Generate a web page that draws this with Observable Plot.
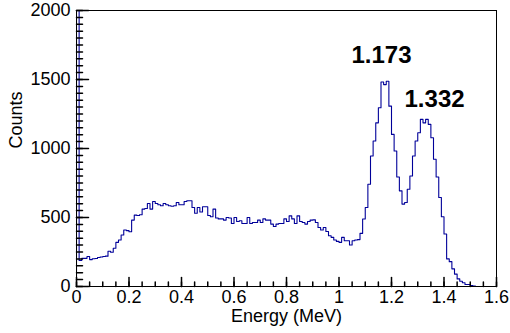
<!DOCTYPE html>
<html><head><meta charset="utf-8">
<script src="https://cdn.jsdelivr.net/npm/d3@7"></script>
<script src="https://cdn.jsdelivr.net/npm/@observablehq/plot@0.6"></script>
<style>body{margin:0;background:#fff}</style>
</head><body><div id="chart"></div>
<script>
// Histogram: 160 bins of 0.01 MeV from 0 to 1.6 MeV
const binWidth = 0.01;
const counts = [
  2600, 188, 204, 204, 217, 195, 201, 203, 210, 214,
  217, 220, 255, 248, 277, 320, 337, 373, 409, 405,
  397, 481, 517, 515, 520, 561, 565, 601, 561, 616,
  601, 592, 585, 601, 592, 585, 582, 585, 609, 592,
  592, 616, 621, 621, 573, 531, 573, 540, 578, 578,
  515, 505, 561, 496, 490, 490, 481, 500, 496, 457,
  500, 471, 476, 457, 457, 500, 457, 464, 464, 481,
  464, 490, 481, 481, 452, 435, 452, 457, 457, 490,
  471, 512, 490, 457, 512, 471, 464, 452, 471, 481,
  483, 464, 428, 409, 428, 399, 368, 356, 337, 327,
  320, 356, 332, 332, 301, 332, 337, 340, 385, 489,
  573, 741, 946, 1054, 1186, 1295, 1482, 1463, 1487, 1307,
  1102, 982, 794, 693, 597, 609, 705, 801, 946, 1054,
  1114, 1211, 1186, 1211, 1175, 1078, 922, 794, 645, 505,
  380, 200, 180, 128, 90, 55, 38, 27, 14, 14,
  7, 3, 0, 0, 0, 0, 0, 0, 0, 0
];
const xMajorTicks = [0, 0.2, 0.4, 0.6, 0.8, 1, 1.2, 1.4, 1.6];
const xMinorTicks = d3.range(0, 1.6001, 0.05);
const yMajorTicks = [0, 500, 1000, 1500, 2000];
const yMinorTicks = d3.range(0, 2001, 50);
const peakLabels = ["1.173", "1.332"];
const peakLabelX = [1.162, 1.364];
const peakLabelY = [1617, 1300];
const xTitle = "Energy (MeV)";
const yTitle = "Counts";

// outline points for a step histogram
const points = [{x: 0, y: 0}];
counts.forEach((c, i) => points.push({x: i * binWidth, y: c}));
points.push({x: counts.length * binWidth, y: counts[counts.length - 1]});
points.push({x: counts.length * binWidth, y: 0});

const peaks = peakLabels.map((t, i) => ({text: t, x: peakLabelX[i], y: peakLabelY[i]}));

const tickShape = {draw(ctx, l) { ctx.moveTo(0, 0); ctx.lineTo(0, -l); }};
const font = "'Liberation Sans', Arial, Helvetica, sans-serif";

const chart = Plot.plot({
  width: 510, height: 333,
  marginLeft: 76, marginRight: 14, marginTop: 10, marginBottom: 47,
  style: {fontFamily: font, background: "#fff", color: "#000"},
  x: {domain: [0, 1.6]},
  y: {domain: [0, 2000]},
  marks: [
    Plot.line(points, {x: "x", y: "y", curve: "step-after", stroke: "#000099", strokeWidth: 1.1, clip: true}),
    Plot.frame({stroke: "#000", strokeWidth: 1}),
    Plot.vector(yMinorTicks, {y: d => d, frameAnchor: "left", length: 6, rotate: 90, anchor: "start", shape: tickShape, stroke: "#000"}),
    Plot.vector(yMajorTicks, {y: d => d, frameAnchor: "left", length: 12, rotate: 90, anchor: "start", shape: tickShape, stroke: "#000"}),
    Plot.vector(xMinorTicks, {x: d => d, frameAnchor: "bottom", length: 4.5, rotate: 0, anchor: "start", shape: tickShape, stroke: "#000"}),
    Plot.vector(xMajorTicks, {x: d => d, frameAnchor: "bottom", length: 9, rotate: 0, anchor: "start", shape: tickShape, stroke: "#000"}),
    Plot.axisY({ticks: yMajorTicks, tickSize: 0, tickPadding: 6, fontSize: 18, tickFormat: d => String(d), label: null}),
    Plot.axisX({ticks: xMajorTicks, tickSize: 0, tickPadding: 4, fontSize: 18, tickFormat: d => String(d), label: null}),
    Plot.text([xTitle], {text: d => d, frameAnchor: "bottom", dy: 35, lineAnchor: "bottom", fontSize: 18}),
    Plot.text([yTitle], {text: d => d, frameAnchor: "left", rotate: -90, dx: -55, lineAnchor: "bottom", fontSize: 18}),
    Plot.text(peaks, {x: "x", y: "y", text: "text", lineAnchor: "bottom", fontSize: 24, fontWeight: "bold", fill: "#000"})
  ]
});
document.getElementById("chart").appendChild(chart);
</script>
</body></html>
